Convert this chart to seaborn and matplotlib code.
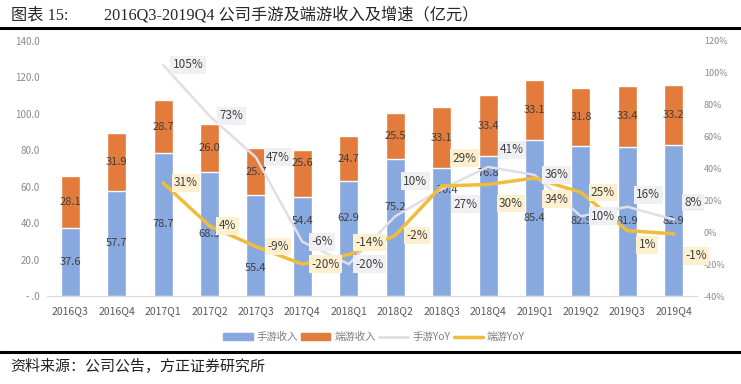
import numpy as np
import pandas as pd
import matplotlib
matplotlib.use('Agg')
import matplotlib.pyplot as plt
from matplotlib.patches import Patch
from matplotlib.lines import Line2D
import seaborn as sns

sns.set_style('white')
plt.rcParams['font.family'] = ['Noto Sans CJK SC', 'DejaVu Sans']

quarters = ['2016Q3', '2016Q4', '2017Q1', '2017Q2', '2017Q3', '2017Q4', '2018Q1',
            '2018Q2', '2018Q3', '2018Q4', '2019Q1', '2019Q2', '2019Q3', '2019Q4']
mobile_rev = [37.6, 57.7, 78.7, 68.3, 55.4, 54.4, 62.9, 75.2, 70.4, 76.8, 85.4, 82.5, 81.9, 82.9]
pc_rev = [28.1, 31.9, 28.7, 26.0, 25.7, 25.6, 24.7, 25.5, 33.1, 33.4, 33.1, 31.8, 33.4, 33.2]
mobile_yoy = [np.nan, np.nan, 105, 73, 47, -6, -20, 10, 27, 41, 36, 10, 16, 8]
pc_yoy = [np.nan, np.nan, 31, 4, -9, -20, -14, -2, 29, 30, 34, 25, 1, -1]

# label offsets in pixels (dx, dy), dy positive = up
mobile_off = [None, None, (25, 0), (22, 0), (22, 0), (20, 0), (21, 0), (20, 35), (24, -15),
              (24, 17), (22, 0), (22, 0), (21, 12), (19, 17)]
pc_off = [None, None, (23, 0), (18, 0), (22, 0), (23, 0), (21, 12), (22, 0), (23, 28),
          (23, -19), (22, -21), (22, 0), (20, -14), (22, -22)]
# bar label nudges in pixels (moved off the lines in the original)
mobile_lbl_dx = [0, 0, 0, 0, 0, 0, 0, 0, 6, 0, 0, 0, 0, 0]
mobile_lbl_dy = [0, 0, 0, 0, -22, 25, 21, 21, 42, 53, 0, 0, 0, 0]
pc_lbl_dy = [0, 0, 0, 0, 0, 11, 0, 0, 0, 0, 0, 0, 0, 0]

BLUE = '#88a8e0'
ORANGE = '#e27b3b'
GRAY = '#dfdfe5'
GOLD = '#f0bd3a'
TXT = '#404040'
PX = 0.72  # points per pixel at dpi 100

df = pd.DataFrame({'quarter': quarters, 'mobile': mobile_rev, 'pc': pc_rev,
                   'mobile_yoy': mobile_yoy, 'pc_yoy': pc_yoy})
df['total'] = df['mobile'] + df['pc']
df['pos'] = np.arange(len(df))

fig = plt.figure(figsize=(7.41, 3.84), dpi=100)
ax = fig.add_axes([47 / 741, 1 - 296 / 384, 650 / 741, 255 / 384])

sns.barplot(data=df, x='quarter', y='total', color=ORANGE, width=0.41, saturation=1, ax=ax)
sns.barplot(data=df, x='quarter', y='mobile', color=BLUE, width=0.41, saturation=1, ax=ax)

for i, r in df.iterrows():
    ax.annotate(f"{r['mobile']:.1f}", (i, r['mobile'] / 2),
                xytext=(mobile_lbl_dx[i] * PX, mobile_lbl_dy[i] * PX),
                textcoords='offset points', ha='center', va='center',
                fontsize=8, color=TXT, zorder=5)
    ax.annotate(f"{r['pc']:.1f}", (i, r['mobile'] + r['pc'] / 2), xytext=(0, pc_lbl_dy[i] * PX),
                textcoords='offset points', ha='center', va='center',
                fontsize=8, color=TXT, zorder=5)

ax.set_ylim(0, 140)
ax.set_xlim(-0.5, 13.5)
ax.set_yticks(np.arange(0, 141, 20))
ax.set_yticklabels(['- .0'] + [f'{v:.1f}' for v in np.arange(20, 141, 20)])
ax.set_xlabel('')
ax.set_ylabel('')
for s in ['top', 'right', 'left']:
    ax.spines[s].set_visible(False)
ax.spines['bottom'].set_color('#d9d9d9')
ax.tick_params(axis='y', length=0, pad=5, labelsize=7, labelcolor='#8a8a8a')
ax.tick_params(axis='x', length=0, pad=7, labelsize=7.5, labelcolor='#595959')

ax2 = ax.twinx()
yoy = df.dropna(subset=['mobile_yoy'])
sns.lineplot(data=yoy, x='pos', y='mobile_yoy', color=GRAY, linewidth=1.8, ax=ax2)
sns.lineplot(data=yoy, x='pos', y='pc_yoy', color=GOLD, linewidth=2.5, ax=ax2)
ax2.set_ylim(-40, 120)
ax2.set_yticks(np.arange(-40, 121, 20))
ax2.set_yticklabels([f'{v}%' for v in range(-40, 121, 20)])
ax2.set_ylabel('')
ax2.set_xlabel('')
for s in ['top', 'right', 'left', 'bottom']:
    ax2.spines[s].set_visible(False)
ax2.tick_params(axis='y', length=0, pad=5, labelsize=6.5, labelcolor='#8a8a8a')

for i in range(len(df)):
    for vals, offs, bg in [(mobile_yoy, mobile_off, '#f0f0f2'), (pc_yoy, pc_off, '#fdf0d0')]:
        if offs[i] is None:
            continue
        ax2.annotate(f'{vals[i]}%', (i, vals[i]), xytext=(offs[i][0] * PX, offs[i][1] * PX),
                     textcoords='offset points', ha='center', va='center', fontsize=8.5,
                     color=TXT, zorder=6,
                     bbox=dict(boxstyle='square,pad=0.2', fc=bg, ec='none'))

ax.set_xticks(range(len(quarters)))
ax.set_xticklabels(quarters)
ax.set_xlim(-0.5, 13.5)

handles = [Patch(color=BLUE), Patch(color=ORANGE),
           Line2D([], [], color=GRAY, lw=2), Line2D([], [], color=GOLD, lw=2.5)]
fig.legend(handles, ['手游收入', '端游收入', '手游YoY', '端游YoY'], loc='center',
           bbox_to_anchor=(0.505, 1 - 337 / 384), ncol=4, frameon=False, fontsize=7.5,
           handlelength=2.8, handleheight=0.6, columnspacing=0.3, handletextpad=0.4,
           labelcolor='#7f7f7f')

# title, rules and source
serif = ['Liberation Serif', 'Noto Sans CJK SC']
fig.text(11 / 741, 1 - 15 / 384, '图表 15:', fontsize=11.7, va='center', family=serif)
fig.text(104 / 741, 1 - 15 / 384, '2016Q3-2019Q4 公司手游及端游收入及增速（亿元）',
         fontsize=11.7, va='center', family=serif)
fig.add_artist(Line2D([0, 1], [1 - 28 / 384] * 2, color='black', lw=2.2))
fig.add_artist(Line2D([0, 1], [1 - 352 / 384] * 2, color='black', lw=2.2))
fig.text(10 / 741, 1 - 367 / 384, '资料来源：公司公告，方正证券研究所', fontsize=10.8,
         va='center', style='italic', color='#222222')

fig.savefig('out.png', dpi=100)
